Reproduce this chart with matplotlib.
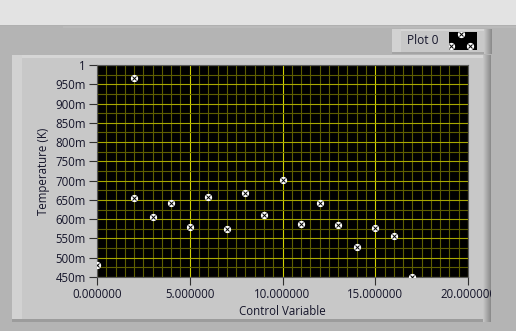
"""LabVIEW-style XY graph: temperature vs control variable."""

import matplotlib

matplotlib.use("Agg")
import matplotlib.patches as patches
import matplotlib.pyplot as plt
from matplotlib.ticker import FixedLocator, MultipleLocator

W, H = 516, 331

# ─── data ───────────────────────────────────────────────────────────
control = [0, 2, 2, 3, 4, 5, 6, 7, 8, 9, 10, 11, 12, 13, 14, 15, 16, 17]
temperature = [0.481, 0.965, 0.656, 0.606, 0.643, 0.580, 0.658, 0.575, 0.669,
               0.612, 0.702, 0.588, 0.643, 0.585, 0.528, 0.578, 0.557, 0.451]

x_ticks = [0, 5, 10, 15, 20]
x_tick_labels = ["0.000000", "5.000000", "10.000000", "15.000000", "20.000000"]
y_ticks = [0.45, 0.50, 0.55, 0.60, 0.65, 0.70, 0.75, 0.80, 0.85, 0.90, 0.95, 1.0]
y_tick_labels = ["450m", "500m", "550m", "600m", "650m", "700m", "750m",
                 "800m", "850m", "900m", "950m", "1"]

FONT = "Open Sans"
TXT = "#15152a"


def px_rect(fig, x0, y0, x1, y1, color, z=-10):
    """Rectangle given in top-left pixel coordinates."""
    fig.patches.append(patches.Rectangle(
        (x0 / W, 1 - y1 / H), (x1 - x0) / W, (y1 - y0) / H,
        transform=fig.transFigure, facecolor=color, edgecolor="none",
        zorder=z, figure=fig,
    ))


def right_gradient(fig, x0, y0, y1, z=-5):
    shades = ["#c4c4c4", "#bcbcbc", "#b4b4b4", "#acacac",
              "#a4a4a4", "#9c9c9c", "#949494", "#8c8c8c"]
    for i, c in enumerate(shades):
        px_rect(fig, x0 + i, y0, x0 + i + 1, y1, c, z)


def render():
    fig = plt.figure(figsize=(W / 100, H / 100), dpi=100, facecolor="#b4b4b4")

    # window chrome
    px_rect(fig, 0, 0, W, 25, "#e3e3e3")
    px_rect(fig, 0, 25, W, 26, "#b0b0b0")
    px_rect(fig, 63, 26, W, 28, "#bababa")

    # graph frame with bevel
    px_rect(fig, 12, 55, 491, 319, "#c8c8c8")
    px_rect(fig, 12, 55, 491, 58, "#d6d6d6")
    px_rect(fig, 12, 55, 22, 319, "#d2d2d2")
    px_rect(fig, 12, 319, 491, 322, "#9c9c9c")
    right_gradient(fig, 483, 55, 322)

    # legend box
    px_rect(fig, 392, 29, 492, 54, "#c8c8c8")
    px_rect(fig, 392, 29, 492, 31, "#d6d6d6")
    px_rect(fig, 392, 29, 401, 54, "#d2d2d2")
    px_rect(fig, 392, 52, 492, 54, "#a4a4a4")
    right_gradient(fig, 484, 29, 54)
    fig.text(423 / W, 1 - 41 / H, "Plot 0", ha="center", va="center",
             fontsize=8.6, family=FONT, color=TXT)

    # cover the right column so the last tick label is cut off
    px_rect(fig, 491, 55, W, H, "#b4b4b4", z=20)

    ax = fig.add_axes([97 / W, 1 - 277 / H, 371 / W, 212 / H], facecolor="black")
    ax.set_xlim(0, 20)
    ax.set_ylim(0.45, 1.0)

    ax.xaxis.set_major_locator(FixedLocator(x_ticks))
    ax.yaxis.set_major_locator(FixedLocator(y_ticks))
    ax.set_xticklabels(x_tick_labels)
    ax.set_yticklabels(y_tick_labels)
    ax.xaxis.set_minor_locator(MultipleLocator(0.5))
    ax.yaxis.set_minor_locator(MultipleLocator(0.025))

    ax.grid(which="major", axis="x", color="#d0d000", lw=0.8)
    ax.grid(which="major", axis="y", color="#a8a800", lw=0.8)
    ax.grid(which="minor", color="#5e5e00", lw=0.8)
    ax.set_axisbelow(True)

    ax.tick_params(which="major", direction="out", length=6, width=0.8,
                   color="#303030", labelsize=8.3, labelcolor=TXT, pad=2)
    ax.tick_params(which="minor", length=0)
    for lab in ax.get_xticklabels() + ax.get_yticklabels():
        lab.set_family(FONT)
    for sp in ax.spines.values():
        sp.set_color("#5a5a5a")
        sp.set_linewidth(0.8)

    ax.plot(control, temperature, ls="none", marker="o", ms=4.2, mfc="white",
            mec="white", zorder=3)
    ax.plot(control, temperature, ls="none", marker="x", ms=2.3, mew=0.7,
            color="black", zorder=4)

    ax.set_xlabel("Control Variable", family=FONT, fontsize=8.3, color=TXT,
                  labelpad=3)
    ax.set_ylabel("Temperature (K)", family=FONT, fontsize=8.3, color=TXT,
                  labelpad=4)

    # legend swatch
    sw = fig.add_axes([449 / W, 1 - 50 / H, 28 / W, 18 / H], facecolor="black")
    sw.set_xlim(0, 28)
    sw.set_ylim(18, 0)
    sw.set_xticks([])
    sw.set_yticks([])
    for sp in sw.spines.values():
        sp.set_visible(False)
    sx, sy = [12, 2, 21], [2, 14, 14]
    sw.plot(sx, sy, ls="none", marker="o", ms=4.2, mfc="white", mec="white")
    sw.plot(sx, sy, ls="none", marker="x", ms=2.3, mew=0.7, color="black")

    fig.savefig("out.png", dpi=100, facecolor=fig.get_facecolor())


if __name__ == "__main__":
    render()
